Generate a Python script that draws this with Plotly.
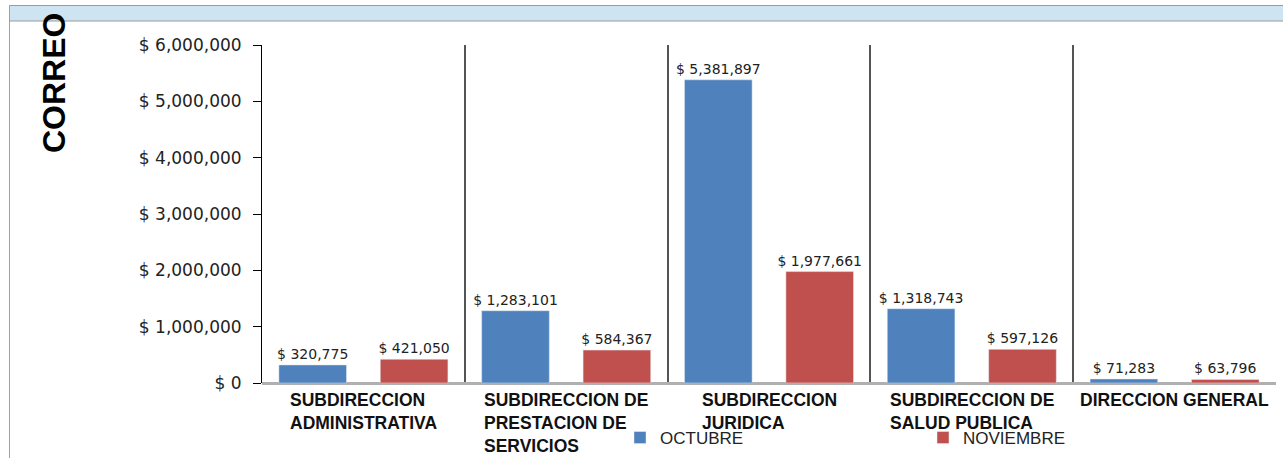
import plotly.graph_objects as go

categorias = [
    "SUBDIRECCION<br>ADMINISTRATIVA",
    "SUBDIRECCION DE<br>PRESTACION DE<br>SERVICIOS",
    "SUBDIRECCION<br>JURIDICA",
    "SUBDIRECCION DE<br>SALUD PUBLICA",
    "DIRECCION GENERAL",
]
octubre = [320775, 1283101, 5381897, 1318743, 71283]
noviembre = [421050, 584367, 1977661, 597126, 63796]

azul = "#4F81BD"
rojo = "#C0504D"

# plot area in pixels: x 262..1276, y 45..383
L, R, T, B = 262, 1276, 45, 383
W, H = 1283, 458


def px(x):
    return (x - L) / (R - L)


def py(y):
    return (B - y) / (B - T)


fig = go.Figure()
for nombre, valores, color in [("OCTUBRE", octubre, azul), ("NOVIEMBRE", noviembre, rojo)]:
    fig.add_trace(go.Bar(
        x=categorias, y=valores, name=nombre, marker_color=color,
        text=[f"$ {v:,}" for v in valores], textposition="outside",
        cliponaxis=False, constraintext="none",
        textfont=dict(family="DejaVu Sans", size=14, color="#222"),
    ))

# category labels, block centred, lines left aligned
for c in categorias:
    fig.add_annotation(x=c, y=0, xref="x", yref="paper", text=f"<b>{c}</b>",
                       showarrow=False, xanchor="center", yanchor="top", yshift=-5,
                       align="left", font=dict(family="Liberation Sans", size=17.5, color="#111"))

fig.add_annotation(x=px(54), y=py(83), xref="paper", yref="paper", text="<b>CORREO</b>",
                   textangle=-90, showarrow=False, xanchor="center", yanchor="middle",
                   font=dict(family="Liberation Sans", size=32, color="#000"))

# frame and header band
fig.add_shape(type="rect", xref="paper", yref="paper", x0=px(9.5), x1=px(1300), y0=py(21), y1=py(5.5),
              fillcolor="#CFE4F2", line=dict(color="#9a9a9a", width=1), layer="below")
fig.add_shape(type="line", xref="paper", yref="paper", x0=px(9.5), x1=px(9.5), y0=py(470), y1=py(5.5),
              line=dict(color="#a0a0a0", width=1))

fig.update_layout(
    width=W, height=H,
    margin=dict(l=L, r=W - R, t=T, b=H - B, autoexpand=False),
    paper_bgcolor="white", plot_bgcolor="white",
    barmode="group", bargap=0, bargroupgap=0.333,
    showlegend=True,
    legend=dict(orientation="h", x=px(620), y=py(438), xanchor="left", yanchor="middle",
                entrywidth=258, entrywidthmode="pixels", itemwidth=30,
                font=dict(family="Liberation Sans", size=17, color="#222"), bgcolor="rgba(0,0,0,0)"),
    xaxis=dict(showticklabels=False, ticks="", tickson="boundaries", showgrid=True,
               gridcolor="#555", gridwidth=1.5, showline=False, zeroline=False),
    yaxis=dict(range=[0, 6000000], dtick=1000000, tickprefix="$ ", tickformat=",",
               showgrid=False, showline=True, linecolor="#000", linewidth=1,
               ticks="outside", ticklen=8, tickcolor="#000", ticklabelstandoff=8,
               zeroline=True, zerolinecolor="#b0b0b0", zerolinewidth=3,
               tickfont=dict(family="DejaVu Sans", size=17, color="#222")),
)

fig.write_html("out.html", config={"displayModeBar": False},
               post_script="document.body.style.margin = '0px';")
